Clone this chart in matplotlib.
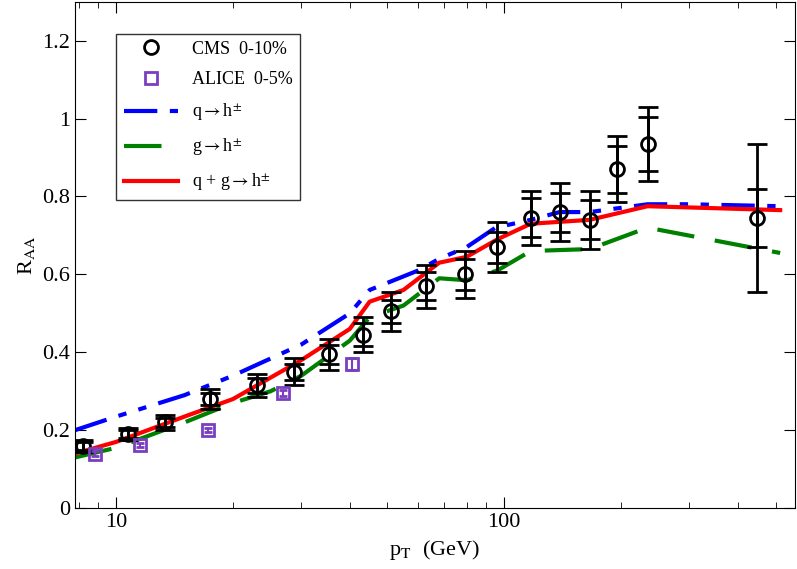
import matplotlib
matplotlib.use("Agg")
import matplotlib.pyplot as plt
import numpy as np
from matplotlib.lines import Line2D

plt.rcParams['font.family'] = 'serif'
plt.rcParams['font.serif'] = ['Liberation Serif', 'DejaVu Serif']
plt.rcParams['mathtext.fontset'] = 'stix'

cms_pt = [8.2,10.7,13.4,17.5,23.1,28.7,35.4,43.3,51.2,63,79.4,96,117,139,166,195,234,449]
cms_r = [0.16,0.19,0.22,0.28,0.315,0.35,0.395,0.445,0.505,0.57,0.60,0.67,0.745,0.76,0.74,0.87,0.935,0.745]
cms_tot = [0.015,0.015,0.02,0.025,0.03,0.035,0.04,0.045,0.05,0.055,0.06,0.065,0.07,0.075,0.075,0.085,0.095,0.19]
cms_stat = [0.01,0.01,0.012,0.015,0.02,0.02,0.025,0.03,0.03,0.035,0.04,0.04,0.05,0.05,0.05,0.06,0.07,0.075]

alice_pt = [8.8,11.5,17.2,26.9,40.5]
alice_r = [0.14,0.162,0.20,0.295,0.37]
alice_err = [0.006,0.006,0.005,0.008,0.015]

q_pt = [7.83,10,15,20,30,40,45,60,68,80,95,117,139,166,234,300,514]
q_r = [0.20,0.235,0.29,0.34,0.42,0.50,0.56,0.61,0.64,0.67,0.72,0.74,0.76,0.76,0.78,0.78,0.775]
g_pt = [7.83,10,15,20,25,30,40,45,55,68,80,96,117,166,234,514]
g_r = [0.13,0.155,0.22,0.27,0.30,0.34,0.43,0.49,0.52,0.59,0.585,0.61,0.66,0.665,0.72,0.655]
qg_pt = [7.83,10,15,20,30,40,45,55,68,80,96,117,166,234,514]
qg_r = [0.14,0.17,0.235,0.28,0.38,0.46,0.53,0.56,0.63,0.645,0.69,0.73,0.74,0.775,0.765]

fig, ax = plt.subplots(figsize=(7.97,5.69), dpi=100)
fig.subplots_adjust(left=0.094, right=0.997, top=0.997, bottom=0.107)
ax.plot(q_pt, q_r, color='#0000ff', lw=3, dashes=[8,3,2,3,2,3])
ax.plot(g_pt, g_r, color='#008000', lw=3, dashes=[9,5])
ax.plot(qg_pt, qg_r, color='#ff0000', lw=3)
ax.errorbar(cms_pt, cms_r, yerr=cms_tot, fmt='none', ecolor='black', elinewidth=2, capsize=7, capthick=2)
ax.errorbar(cms_pt, cms_r, yerr=cms_stat, fmt='none', ecolor='black', elinewidth=2, capsize=7, capthick=2)
ax.plot(cms_pt, cms_r, 'o', mfc='none', mec='black', mew=2, ms=10)
ax.errorbar(alice_pt, alice_r, yerr=alice_err, fmt='s', mfc='none', mec='#7a3fbf', ecolor='#7a3fbf', mew=2, ms=8, capsize=3)
ax.set_xscale('log')
ax.set_xlim(7.83, 560)
ax.set_ylim(0, 1.3)
ax.set_yticks(np.arange(0, 1.3, 0.2))
ax.set_yticklabels(['0','0.2','0.4','0.6','0.8','1','1.2'])
ax.set_xticks([10,100]); ax.set_xticklabels(['10','100'])
ax.tick_params(which='both', direction='in', top=True, right=True, labelsize=16)
ax.tick_params(which='major', length=8); ax.tick_params(which='minor', length=4)
ax.set_xlabel(r'p$_\mathrm{T}$  (GeV)', fontsize=16)
ax.set_ylabel(r'R$_\mathrm{AA}$', fontsize=16)
handles = [Line2D([],[],ls='none',marker='o',mfc='none',mec='black',mew=2,ms=10),
           Line2D([],[],ls='none',marker='s',mfc='none',mec='#7a3fbf',mew=2,ms=8),
           Line2D([],[],color='#0000ff',lw=3,dashes=[8,3,2,3,2,3]),
           Line2D([],[],color='#008000',lw=3,dashes=[9,5]),
           Line2D([],[],color='#ff0000',lw=3)]
labels = ['CMS  0-10%','ALICE  0-5%',r'q$\rightarrow$h$^{\pm}$',r'g$\rightarrow$h$^{\pm}$',r'q + g$\rightarrow$h$^{\pm}$']
ax.legend(handles, labels, loc='upper left', bbox_to_anchor=(0.045,0.955),
          fancybox=False, edgecolor='black', prop={'size':13}, handlelength=3.0, labelspacing=0.75)
fig.savefig('out.png')
